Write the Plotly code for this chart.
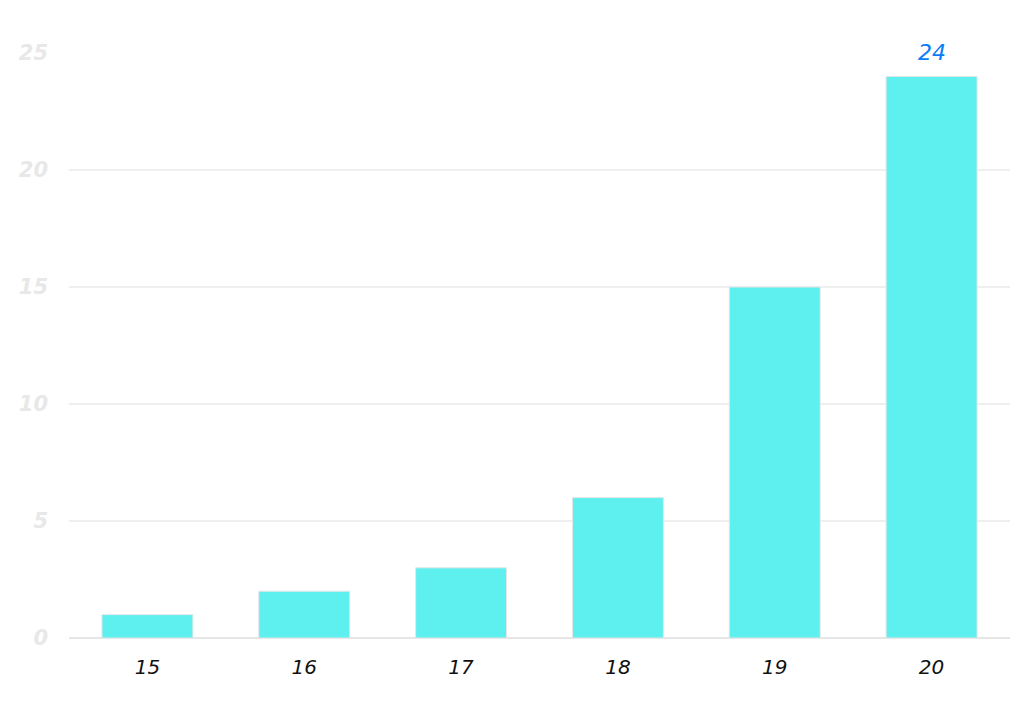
import plotly.graph_objects as go

categories = ["15", "16", "17", "18", "19", "20"]
values = [1, 2, 3, 6, 15, 24]
label_index = 5

fig = go.Figure(go.Bar(
    x=categories, y=values,
    marker=dict(color="#5ef0ef", line=dict(color="#e6e6e6", width=1)),
    hoverinfo="skip",
))
fig.add_annotation(
    x=label_index, y=values[label_index], text=str(values[label_index]),
    xref="x", yref="y",
    showarrow=False, yanchor="bottom", yshift=9,
    font=dict(family="DejaVu Sans", size=22, color="#0a7cf5", style="italic"),
)

fig.update_layout(
    width=1024, height=725,
    margin=dict(l=61, r=22, t=45, b=95),
    paper_bgcolor="white", plot_bgcolor="white",
    bargap=0.42, showlegend=False,
)
fig.update_xaxes(
    type="category", categoryorder="array", categoryarray=categories,
    range=[-0.5, len(categories) - 0.5],
    showgrid=False, showline=False, ticks="",
    tickfont=dict(family="DejaVu Sans", size=20, color="#111111", style="italic"),
    ticklabelstandoff=15, automargin=False,
)
fig.update_yaxes(
    range=[0, 25], tickvals=[0, 5, 10, 15, 20, 25],
    showgrid=True, gridcolor="#efefef", gridwidth=2,
    zeroline=True, zerolinecolor="#e6e6e6", zerolinewidth=2,
    tickfont=dict(family="DejaVu Sans", size=21, color="#e8e8e8", style="italic", weight="bold"),
    ticklabelstandoff=20, automargin=False,
)

fig.write_html("out.html")
